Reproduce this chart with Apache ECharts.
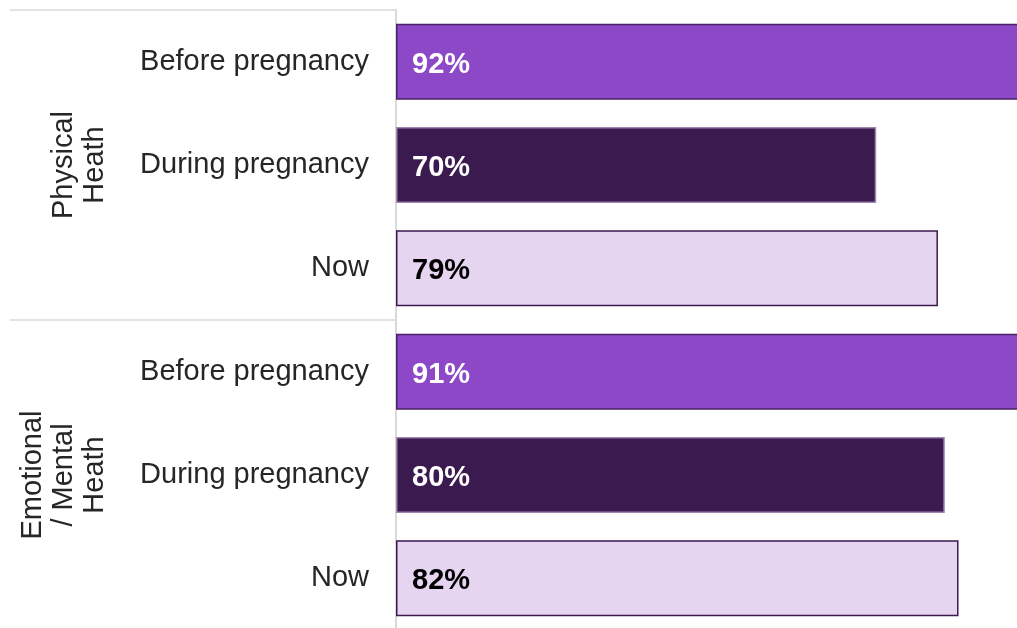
<!DOCTYPE html>
<html>
<head>
<meta charset="utf-8">
<script src="https://cdn.jsdelivr.net/npm/echarts@6/dist/echarts.min.js"></script>
<style>
    html, body { margin: 0; padding: 0; background: #fff; }
    #main { width: 1017px; height: 628px; }
</style>
</head>
<body>
<div id="main"></div>
<script>
// data
const categories = ['Before pregnancy', 'During pregnancy', 'Now', 'Before pregnancy', 'During pregnancy', 'Now'];
const values = [92, 70, 79, 91, 80, 82];
const groups = ['Physical\nHeath', 'Emotional\n/ Mental\nHeath'];

// style per period (before / during / now)
const fills = ['#8c48c6', '#3b1a4f', '#e6d5f0'];
const borders = ['#4b2265', '#9c86b0', '#3b1a4f'];
const labelColors = ['#ffffff', '#ffffff', '#000000'];

const font = '"Liberation Sans", Arial, sans-serif';

const myChart = echarts.init(document.getElementById('main'));
myChart.setOption({
    animation: false,
    grid: {
        left: 396,
        right: -65,
        top: 10,
        bottom: -2,
        containLabel: false,
        outerBoundsMode: 'none'
    },
    xAxis: {
        type: 'value',
        min: 0,
        max: 100,
        show: false
    },
    yAxis: [
        {
            type: 'category',
            data: categories,
            inverse: true,
            axisLine: {
                lineStyle: {
                    color: '#d9d9d9',
                    width: 2
                }
            },
            axisTick: {show: false},
            axisLabel: {
                margin: 27,
                fontSize: 29,
                padding: [3, 0, 0, 0],
                color: '#262626',
                fontFamily: font
            }
        }, {
            type: 'category',
            data: groups,
            inverse: true,
            position: 'left',
            axisLine: {show: false},
            axisTick: {
                show: true,
                length: 386,
                lineStyle: {
                    color: '#d9d9d9',
                    width: 1.5
                }
            },
            axisLabel: {
                rotate: 90,
                margin: 286,
                fontSize: 29,
                lineHeight: 31,
                color: '#262626',
                fontFamily: font
            }
        }
    ],
    series: [
        {
            type: 'bar',
            yAxisIndex: 0,
            barWidth: 76,
            data: values.map((v, i) => ({
                value: v,
                itemStyle: {
                    color: fills[i % 3],
                    borderColor: borders[i % 3],
                    borderWidth: 1.5
                },
                label: {
                    color: labelColors[i % 3]
                }
            })),
            label: {
                show: true,
                position: 'insideLeft',
                distance: 16,
                offset: [0, 3],
                formatter: '{c}%',
                fontSize: 29,
                fontWeight: 'bold',
                fontFamily: font
            }
        }
    ]
});
</script>
</body>
</html>
